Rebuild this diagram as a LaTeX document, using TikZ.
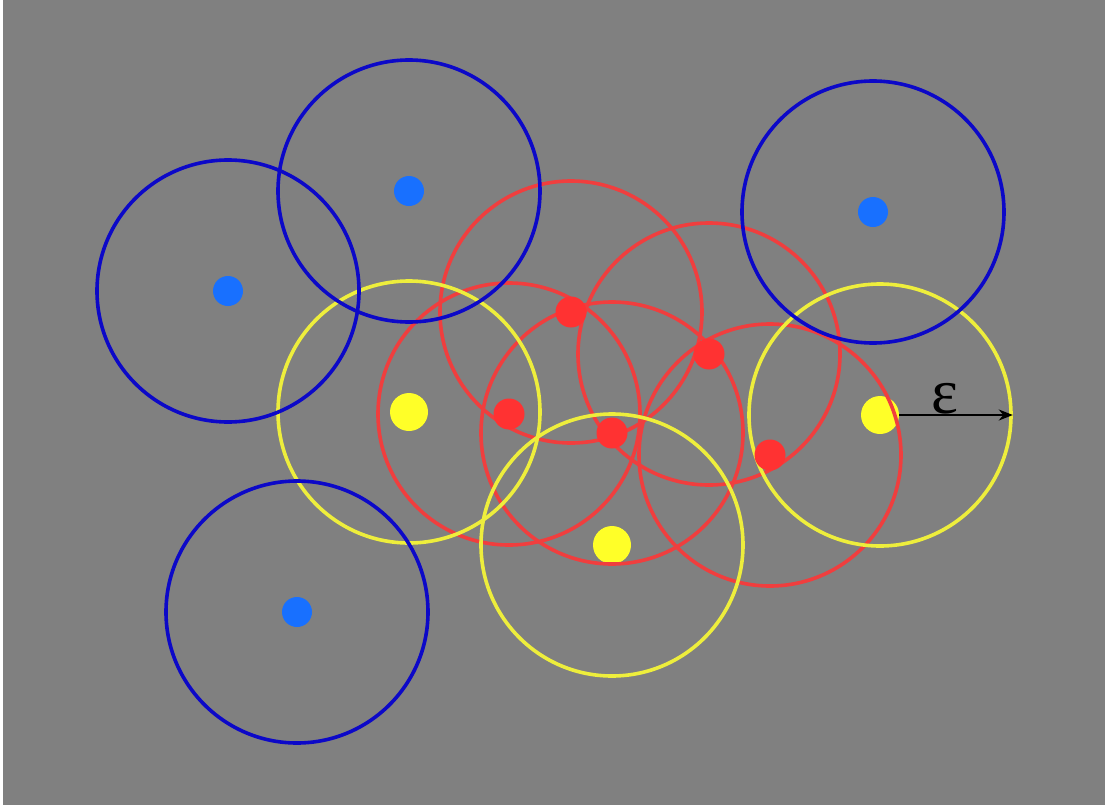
\documentclass[tikz,border=0pt]{standalone}
\usepackage{fontspec}
\newfontfamily\epsfont{Liberation Serif}
\usetikzlibrary{arrows.meta}
\definecolor{bggray}{RGB}{128,128,128}
\definecolor{noiseblue}{RGB}{12,8,200}
\definecolor{noisedot}{RGB}{24,112,255}
\definecolor{corered}{RGB}{240,62,62}
\definecolor{coredot}{RGB}{255,50,50}
\definecolor{borderyellow}{RGB}{238,238,60}
\definecolor{borderdot}{RGB}{255,255,40}
\tikzstyle{reach} = [circle, draw, line width=3.6pt, minimum size=262pt, inner sep=0pt]
\tikzstyle{dotnode} = [circle, minimum size=30pt, inner sep=0pt]
\tikzstyle{arrow} = [-{Stealth[length=14pt, width=11pt]}, line width=2.2pt]

\begin{document}
\begin{tikzpicture}[x=1pt, y=-1pt]
    % Background
    \useasboundingbox (0,0) rectangle (1112,809);
    \fill[white] (0,0) rectangle (1112,809);
    \fill[bggray] (3,0) rectangle (1105,805);

    % Border points
    \foreach \x/\y [count=\i] in {409/412, 612/545, 880/415} {
        \node[dotnode, fill=borderdot, minimum size=38pt] (b\i) at (\x,\y) {};
    }

    % Core neighbourhoods
    \foreach \x/\y [count=\i] in {571/312, 509/414, 612/433, 709/354, 770/455} {
        \node[reach, draw=corered] (rc\i) at (\x,\y) {};
    }

    % Border neighbourhoods
    \foreach \i in {1,2,3} {
        \node[reach, draw=borderyellow] (rb\i) at (b\i) {};
    }

    % Noise points
    \foreach \x/\y [count=\i] in {228/291, 409/191, 873/212, 297/612} {
        \node[reach, draw=noiseblue] (rn\i) at (\x,\y) {};
        \node[dotnode, fill=noisedot] (n\i) at (\x,\y) {};
    }

    % Core points
    \foreach \i in {1,...,5} {
        \node[dotnode, fill=coredot, minimum size=31pt] (c\i) at (rc\i) {};
    }

    % Radius
    \draw[arrow] (b3.east) -- (rb3.east) node[midway, above=-4pt, xshift=-11pt, font=\epsfont\fontsize{64}{64}\selectfont] {ε};
\end{tikzpicture}
\end{document}
